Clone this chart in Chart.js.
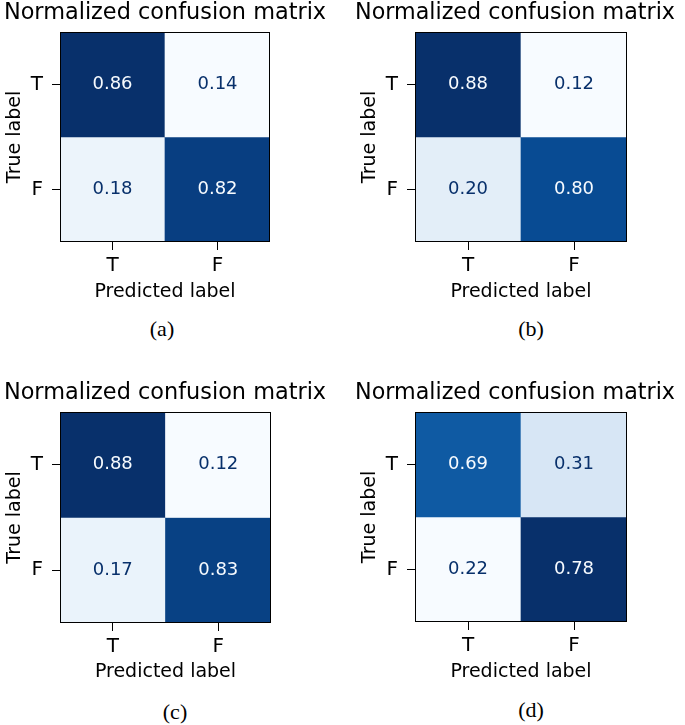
<!DOCTYPE html>
<html><head><meta charset="utf-8">
<script src="https://cdn.jsdelivr.net/npm/chart.js@4.4.1/dist/chart.umd.min.js"></script>
<style>
html,body{margin:0;padding:0;background:#fff;}
body{width:685px;height:725px;position:relative;overflow:hidden;}
canvas{position:absolute;}
.cap{position:absolute;font-family:"Liberation Serif","Times New Roman",serif;font-size:22px;color:#000;transform:translate(-50%,-50%);white-space:nowrap;line-height:1;}
</style></head><body>
<canvas id="ca" width="330" height="305" style="left:0px;top:0px"></canvas>
<canvas id="cb" width="320" height="305" style="left:355px;top:0px"></canvas>
<canvas id="cc" width="330" height="305" style="left:0px;top:380px"></canvas>
<canvas id="cd" width="320" height="305" style="left:355px;top:380px"></canvas>
<div class="cap" id="capa" style="left:162px;top:329px"></div>
<div class="cap" id="capb" style="left:531px;top:329px"></div>
<div class="cap" id="capc" style="left:175px;top:712px"></div>
<div class="cap" id="capd" style="left:531px;top:710px"></div>
<script>
// ---- data ----
const predictedLabels = ['T', 'F'];
const trueLabels = ['T', 'F'];
const cmA = [[0.86, 0.14], [0.18, 0.82]];
const cmB = [[0.88, 0.12], [0.20, 0.80]];
const cmC = [[0.88, 0.12], [0.17, 0.83]];
const cmD = [[0.69, 0.31], [0.22, 0.78]];
const chartTitle = 'Normalized confusion matrix';
const xAxisTitle = 'Predicted label';
const yAxisTitle = 'True label';
const captions = ['(a)', '(b)', '(c)', '(d)'];

// matplotlib "Blues" colormap
const BLUES = [[247,251,255],[222,235,247],[198,219,239],[158,202,225],[107,174,214],[66,146,198],[33,113,181],[8,81,156],[8,48,107]];
function blues(t) {
  const i = Math.min(255, Math.max(0, Math.floor(t * 256)));
  const u = i / 255;
  const s = u * 8;
  const k = Math.min(7, Math.floor(s));
  const f = s - k;
  const a = BLUES[k], b = BLUES[k + 1];
  const c = a.map((v, j) => Math.round(v + (b[j] - v) * f));
  return 'rgb(' + c.join(',') + ')';
}

const FONT = "'DejaVu Sans', sans-serif";

function makeChart(canvasId, cm, areaLeft, areaRight, areaTop, areaBottom) {
  const canvas = document.getElementById(canvasId);
  const W = canvas.width, H = canvas.height;
  const flat = cm.flat();
  const lo = Math.min(...flat), hi = Math.max(...flat);
  const norm = v => (v - lo) / (hi - lo);
  const thr = (lo + hi) / 2;
  const titleSize = 22.4, titleLH = 1.2;

  const datasets = trueLabels.map((rowLabel, r) => ({
    label: rowLabel,
    data: predictedLabels.map(() => [r, r + 1]),
    values: cm[r],
    backgroundColor: cm[r].map(v => blues(norm(v))),
    borderWidth: 0,
    barPercentage: 1,
    categoryPercentage: 1,
    grouped: false
  }));

  const cellText = {
    id: 'cellText',
    afterDatasetsDraw(chart) {
      const ctx = chart.ctx;
      ctx.save();
      ctx.font = "18px " + FONT;
      ctx.textAlign = 'center';
      ctx.textBaseline = 'middle';
      chart.data.datasets.forEach((ds, r) => {
        const meta = chart.getDatasetMeta(r);
        meta.data.forEach((el, c) => {
          const v = ds.values[c];
          const p = el.getProps(['x', 'y', 'base'], true);
          ctx.fillStyle = v > thr ? blues(0) : blues(1);
          ctx.fillText(v.toFixed(2), p.x, (p.y + p.base) / 2);
        });
      });
      const a = chart.chartArea;
      ctx.strokeStyle = '#000';
      ctx.lineWidth = 1;
      ctx.strokeRect(Math.round(a.left) + 0.5, Math.round(a.top) + 0.5, Math.round(a.right - a.left) - 1, Math.round(a.bottom - a.top) - 1);
      ctx.restore();
    }
  };

  const tickGrid = { drawOnChartArea: false, drawTicks: true, tickLength: 8, color: '#000', lineWidth: 1 };

  return new Chart(canvas, {
    type: 'bar',
    data: { labels: predictedLabels, datasets },
    plugins: [cellText],
    options: {
      responsive: false,
      animation: false,
      devicePixelRatio: 1,
      layout: { padding: 0 },
      plugins: {
        legend: { display: false },
        tooltip: { enabled: false },
        title: {
          display: true, text: chartTitle, color: '#000',
          font: { family: FONT, size: titleSize, weight: 'normal', lineHeight: titleLH },
          padding: { top: 0, bottom: areaTop - titleSize * titleLH }
        }
      },
      scales: {
        x: {
          type: 'category',
          offset: true,
          grid: Object.assign({ offset: false }, tickGrid),
          border: { display: false },
          ticks: { color: '#000', padding: 4, font: { family: FONT, size: 20 } },
          title: { display: true, text: xAxisTitle, color: '#000', font: { family: FONT, size: 19 }, padding: { top: 0, bottom: 2 } },
          afterFit(s) { s.height = H - areaBottom; }
        },
        y: {
          type: 'linear',
          min: 0, max: trueLabels.length,
          reverse: true,
          afterBuildTicks(s) { s.ticks = trueLabels.map((_, i) => ({ value: i + 0.5 })); },
          grid: tickGrid,
          border: { display: false },
          ticks: {
            color: '#000', padding: 9, font: { family: FONT, size: 20 },
            callback: (v) => trueLabels[Math.floor(v)]
          },
          title: { display: true, text: yAxisTitle, color: '#000', font: { family: FONT, size: 19 }, padding: { top: 4, bottom: 0 } },
          afterFit(s) { s.width = areaLeft; }
        },
        spacer: {
          type: 'linear',
          position: 'right',
          display: true,
          grid: { display: false },
          border: { display: false },
          ticks: { display: false },
          afterFit(s) { s.width = W - areaRight; }
        }
      }
    }
  });
}

makeChart('ca', cmA, 60, 270, 32, 242);
makeChart('cb', cmB, 60, 272, 32, 242);
makeChart('cc', cmC, 60, 271, 32, 243);
makeChart('cd', cmD, 60, 272, 32, 242);
['capa', 'capb', 'capc', 'capd'].forEach((id, i) => { document.getElementById(id).textContent = captions[i]; });
</script>
</body></html>
